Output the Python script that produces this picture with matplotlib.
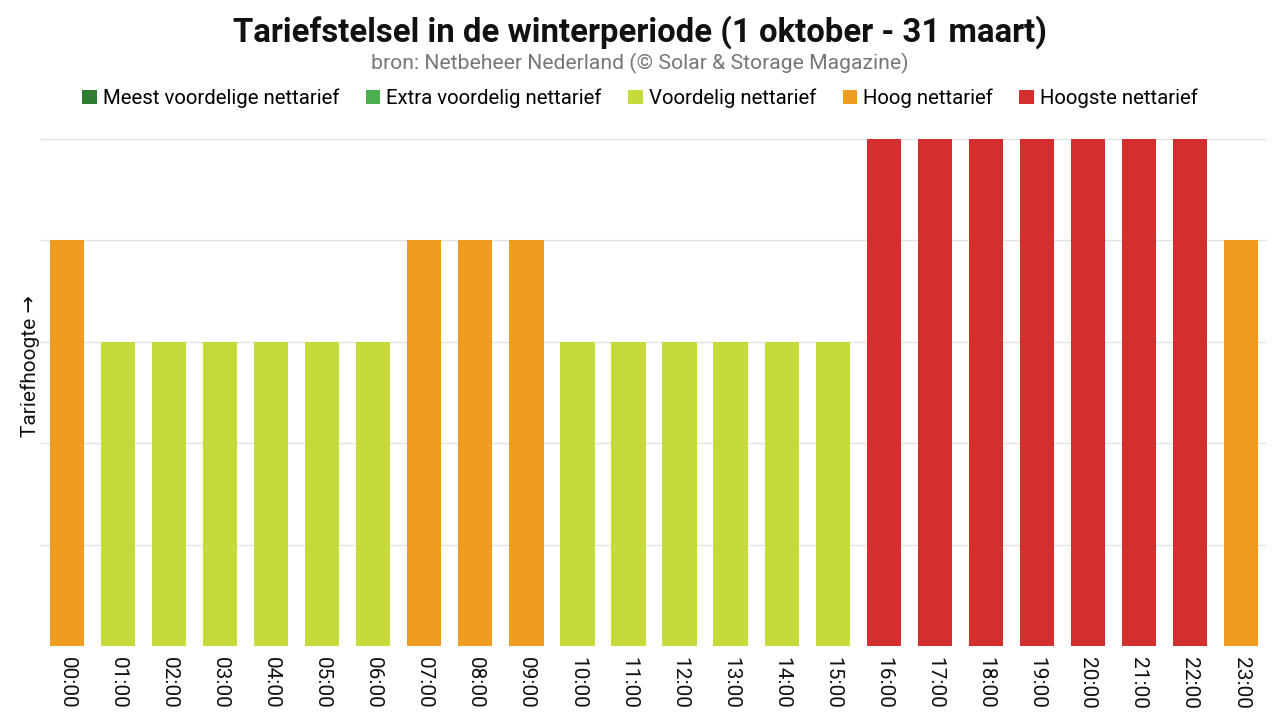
import matplotlib
matplotlib.use("Agg")
import matplotlib.pyplot as plt
from matplotlib.patches import Patch

plt.rcParams['font.family'] = ['Roboto', 'DejaVu Sans']

hours = [f"{h:02d}:00" for h in range(24)]
levels = [4, 3, 3, 3, 3, 3, 3, 4, 4, 4, 3, 3, 3, 3, 3, 3, 5, 5, 5, 5, 5, 5, 5, 4]
categories = ["Meest voordelige nettarief", "Extra voordelig nettarief",
              "Voordelig nettarief", "Hoog nettarief", "Hoogste nettarief"]
cat_colors = ["#2E7D32", "#4CAF50", "#C6DA3C", "#EF9D1F", "#D32F2F"]
level_to_cat = {1: 0, 2: 1, 3: 2, 4: 3, 5: 4}

fig = plt.figure(figsize=(12.8, 7.2), dpi=100)
ax = fig.add_axes([0.0324, 0.1028, 0.9571, 0.7042])

x = list(range(len(hours)))
colors = [cat_colors[level_to_cat[v]] for v in levels]
ax.bar(x, levels, width=0.67, color=colors, zorder=3)

ax.set_xlim(-0.5, 23.5)
ax.set_ylim(0, 5)
ax.set_yticks([1, 2, 3, 4, 5])
ax.set_yticklabels([])
ax.tick_params(axis='y', length=0)
ax.grid(axis='y', color='#e3e3e3', linewidth=1, zorder=0)
ax.set_xticks(x)
ax.set_xticklabels(hours, rotation=-90, fontsize=15, color='#111111')
ax.tick_params(axis='x', length=0, pad=8)
for s in ax.spines.values():
    s.set_visible(False)

ax.set_ylabel("Tariefhoogte →", fontsize=15, color='#111111')
ax.yaxis.set_label_coords(-0.0008, 0.552)

fig.text(0.5, 0.956, "Tariefstelsel in de winterperiode (1 oktober - 31 maart)",
         ha='center', va='center', fontsize=23.7, fontweight='bold', color='#111111')
fig.text(0.5, 0.912, "bron: Netbeheer Nederland (© Solar & Storage Magazine)",
         ha='center', va='center', fontsize=15.2, color='#777777')

handles = [Patch(facecolor=c, edgecolor='none', label=l) for c, l in zip(cat_colors, categories)]
fig.legend(handles=handles, loc='center', bbox_to_anchor=(0.5, 0.863), ncol=5,
           frameon=False, fontsize=14.7, handlelength=0.7, handleheight=0.7,
           handletextpad=0.3, columnspacing=1.3)

fig.savefig("out.png", dpi=100)
